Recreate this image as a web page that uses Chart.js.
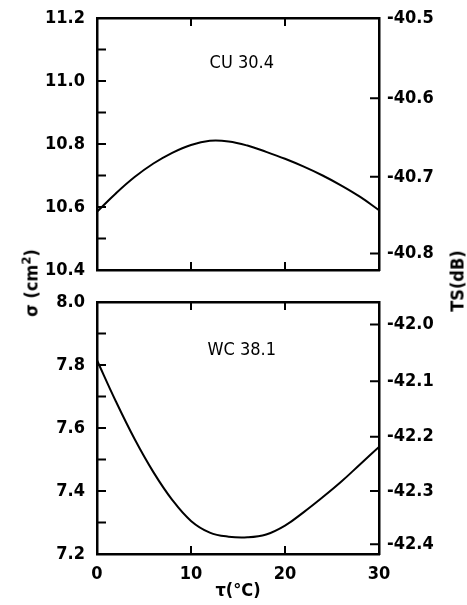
<!DOCTYPE html>
<html>
<head>
<meta charset="utf-8">
<script src="https://cdn.jsdelivr.net/npm/chart.js@4"></script>
<style>
  body { margin: 0; background: #fff; }
  #wrap { position: relative; width: 467px; height: 605px; font-family: 'DejaVu Sans Condensed', 'DejaVu Sans', sans-serif; }
  canvas { position: absolute; left: 0; }
  .ytitle { position: absolute; transform: translate(-50%, -50%) rotate(-90deg); font-size: 18px; font-weight: bold; white-space: nowrap; color: #000; }
  .ytitle sup { font-size: 13px; }
</style>
</head>
<body>
<div id="wrap">
  <canvas id="graficoCU" width="467" height="290" style="top:0"></canvas>
  <canvas id="graficoWC" width="467" height="315" style="top:290px"></canvas>
  <div class="ytitle" style="left:30px; top:283px">σ (cm<sup>2</sup>)</div>
  <div class="ytitle" style="left:457px; top:281px">TS(dB)</div>
</div>
<script>
// temperatura (°C)
const temps = [0, 2, 4, 6, 8, 10, 12, 14, 16, 18, 20, 22, 24, 26, 28, 30];
// sigma (cm2)
const sigmaCU = [10.585, 10.643, 10.695, 10.738, 10.772, 10.797, 10.81, 10.808, 10.795, 10.775, 10.753, 10.728, 10.70, 10.668, 10.632, 10.59];
const sigmaWC = [7.815, 7.685, 7.565, 7.46, 7.372, 7.305, 7.268, 7.255, 7.253, 7.262, 7.29, 7.333, 7.38, 7.43, 7.485, 7.54];
// marcas dos eixos
const xTicks = [0, 10, 20, 30];
const tsTicksCU = [-40.5, -40.6, -40.7, -40.8];
const tsTicksWC = [-42.0, -42.1, -42.2, -42.3, -42.4];

Chart.defaults.font.family = "'DejaVu Sans Condensed', 'DejaVu Sans', sans-serif";
Chart.defaults.font.size = 18;
Chart.defaults.font.weight = 'bold';
Chart.defaults.color = '#000';

// TS = 10 log10(sigma / 4pi), sigma em m2
function sigmaDeTS(ts) {
  return 4 * Math.PI * Math.pow(10, ts / 10) * 1e4;
}

const marcasInternas = {
  id: 'marcasInternas',
  afterDatasetsDraw(chart) {
    const {ctx, chartArea: a, scales} = chart;
    ctx.save();
    ctx.strokeStyle = '#000';
    ctx.lineWidth = 2;
    ctx.beginPath();
    scales.x.ticks.forEach(t => {
      const px = scales.x.getPixelForValue(t.value);
      ctx.moveTo(px, a.bottom); ctx.lineTo(px, a.bottom - 8);
      ctx.moveTo(px, a.top); ctx.lineTo(px, a.top + 8);
    });
    scales.y.ticks.forEach(t => {
      const py = scales.y.getPixelForValue(t.value);
      ctx.moveTo(a.left, py); ctx.lineTo(a.left + 9, py);
    });
    scales.yR.ticks.forEach(t => {
      const py = scales.yR.getPixelForValue(t.value);
      ctx.moveTo(a.right, py); ctx.lineTo(a.right - 9, py);
    });
    ctx.stroke();
    const r = chart.options.plugins.rotulo;
    ctx.font = "18px 'DejaVu Sans Condensed', 'DejaVu Sans'";
    ctx.fillStyle = '#000';
    ctx.textAlign = 'center';
    ctx.textBaseline = 'middle';
    ctx.fillText(r.texto, scales.x.getPixelForValue(r.x), scales.y.getPixelForValue(r.y));
    ctx.restore();
  }
};

function criarGrafico(id, sigma, tsTicks, yMin, yMax, rotulo, mostrarX, altTopo, altBase) {
  const borda = {display: true, width: 2.5, color: '#000'};
  const grade = {display: true, drawOnChartArea: false, drawTicks: false};
  return new Chart(document.getElementById(id), {
    type: 'line',
    data: {
      datasets: [{
        data: temps.map((t, i) => ({x: t, y: sigma[i]})),
        borderColor: '#000',
        borderWidth: 2,
        pointRadius: 0,
        tension: 0.4,
        xAxisID: 'x',
        yAxisID: 'y'
      }]
    },
    options: {
      responsive: false,
      animation: false,
      layout: {padding: 0},
      plugins: {legend: {display: false}, tooltip: {enabled: false}, rotulo: rotulo},
      scales: {
        x: {
          type: 'linear', position: 'bottom', min: 0, max: 30,
          afterBuildTicks: s => { s.ticks = xTicks.map(v => ({value: v})); },
          ticks: {display: mostrarX, padding: 10, maxRotation: 0},
          grid: grade, border: borda,
          title: {display: mostrarX, text: 'τ(°C)', padding: {top: 0, bottom: 3}},
          afterFit: s => { s.height = altBase; s.paddingLeft = 0; s.paddingRight = 0; }
        },
        xTop: {
          type: 'linear', position: 'top', min: 0, max: 30,
          ticks: {display: false},
          grid: grade, border: borda,
          afterFit: s => { s.height = altTopo; }
        },
        y: {
          type: 'linear', position: 'left', min: yMin, max: yMax,
          ticks: {
            stepSize: 0.1, padding: 12,
            callback: v => Math.round(v * 10) % 2 === 0 ? v.toFixed(1) : ''
          },
          grid: grade, border: borda,
          afterFit: s => { s.width = 97; s.paddingTop = 0; s.paddingBottom = 0; }
        },
        yR: {
          type: 'linear', position: 'right', min: yMin, max: yMax,
          afterBuildTicks: s => { s.ticks = tsTicks.map(ts => ({value: sigmaDeTS(ts)})); },
          ticks: {
            padding: 8,
            callback: (v, i) => tsTicks[i].toFixed(1)
          },
          grid: grade, border: borda,
          afterFit: s => { s.width = 88; s.paddingTop = 0; s.paddingBottom = 0; }
        }
      }
    },
    plugins: [marcasInternas]
  });
}

criarGrafico('graficoCU', sigmaCU, tsTicksCU, 10.4, 11.2, {texto: 'CU 30.4', x: 15.4, y: 11.057}, false, 18, 20);
criarGrafico('graficoWC', sigmaWC, tsTicksWC, 7.2, 8.0, {texto: 'WC 38.1', x: 15.4, y: 7.848}, true, 12, 51);
</script>
</body>
</html>
